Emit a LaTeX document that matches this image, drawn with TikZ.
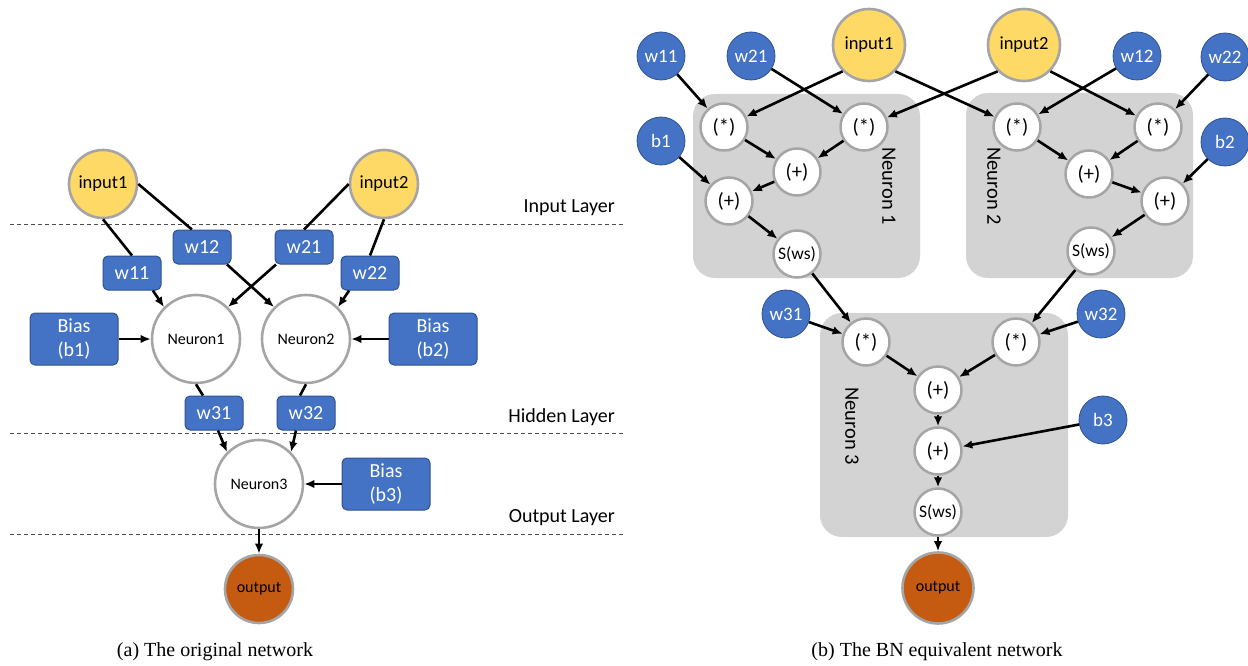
\documentclass[tikz,border=0pt]{standalone}
\usepackage{fontspec}
\setmainfont{Carlito}
\newfontfamily\captionfont{Liberation Serif}
\usetikzlibrary{arrows.meta}
\definecolor{inputyellow}{RGB}{255,217,102}
\definecolor{paramblue}{RGB}{68,114,196}
\definecolor{paramedge}{RGB}{47,82,143}
\definecolor{outputorange}{RGB}{197,90,17}
\definecolor{ringgray}{RGB}{165,165,165}
\definecolor{neurongray}{RGB}{211,211,211}

\begin{document}
\begin{tikzpicture}[x=1pt, y=-1pt, >={Latex[length=10pt,width=8.5pt]}]
    \tikzstyle{inputnode} = [circle, draw=ringgray, line width=2.6pt, fill=inputyellow, minimum size=68pt, inner sep=0pt, font=\fontsize{18.5}{20}\selectfont]
    \tikzstyle{outputnode} = [circle, draw=ringgray, line width=2.6pt, fill=outputorange, minimum size=68pt, inner sep=0pt, font=\fontsize{16}{18}\selectfont]
    \tikzstyle{neuron} = [circle, draw=ringgray, line width=2.6pt, fill=white, minimum size=88pt, inner sep=0pt, font=\fontsize{16}{18}\selectfont]
    \tikzstyle{weightbox} = [rectangle, rounded corners=5pt, draw=paramedge, line width=1pt, fill=paramblue, text=white, minimum width=58pt, minimum height=34pt, font=\fontsize{20}{22}\selectfont]
    \tikzstyle{biasbox} = [weightbox, minimum width=88pt, minimum height=52pt, align=center, font=\fontsize{20}{24}\selectfont]
    \tikzstyle{param} = [circle, draw=paramedge, line width=0.8pt, fill=paramblue, text=white, minimum size=48pt, inner sep=0pt, font=\fontsize{19}{20}\selectfont]
    \tikzstyle{op} = [circle, draw=ringgray, line width=2.5pt, fill=white, minimum size=47pt, inner sep=0pt, font=\fontsize{20.5}{22}\selectfont]
    \tikzstyle{sigop} = [op, font=\fontsize{17.5}{18}\selectfont]
    \tikzstyle{neuronbox} = [rectangle, rounded corners=22pt, fill=neurongray, inner sep=0pt]
    \tikzstyle{layerlabel} = [anchor=east, inner sep=0pt, font=\fontsize{20}{22}\selectfont]
    \tikzstyle{boxlabel} = [rotate=-90, inner sep=0pt, font=\fontsize{20.5}{22}\selectfont]
    \tikzstyle{caption} = [inner sep=0pt, font=\captionfont\fontsize{20}{22}\selectfont]
    \tikzstyle{link} = [line width=2.6pt]
    \tikzstyle{feed} = [->, line width=2.6pt]
    \tikzstyle{layerline} = [line width=1pt, black!70, dash pattern=on 4pt off 3pt]

    \useasboundingbox (0,0) rectangle (1248,666);

    % (a) layers
    \draw [layerline] (10,224) -- (625,224);
    \draw [layerline] (10,433) -- (625,433);
    \draw [layerline] (10,534) -- (625,534);
    \node [layerlabel] (inlayer) at (615,208) {Input Layer};
    \node [layerlabel] (hidlayer) at (615,417) {Hidden Layer};
    \node [layerlabel] (outlayer) at (615,518) {Output Layer};

    % (a) nodes
    \node [inputnode] (input1) at (103,184) {input1};
    \node [inputnode] (input2) at (384,184) {input2};
    \node [weightbox] (w11) at (132,273) {w11};
    \node [weightbox] (w12) at (202,247) {w12};
    \node [weightbox] (w21) at (304,247) {w21};
    \node [weightbox] (w22) at (370,273) {w22};
    \node [neuron] (neuron1) at (196,339) {Neuron1};
    \node [neuron] (neuron2) at (306,339) {Neuron2};
    \node [biasbox] (bias1) at (74,339) {Bias\\(b1)};
    \node [biasbox] (bias2) at (433,339) {Bias\\(b2)};
    \node [weightbox] (w31) at (214,413) {w31};
    \node [weightbox] (w32) at (306,413) {w32};
    \node [neuron] (neuron3) at (259,484) {Neuron3};
    \node [biasbox] (bias3) at (386,484) {Bias\\(b3)};
    \node [outputnode] (output) at (259,589) {output};

    % (a) connections
    \draw [link] (input1.south) -- (w11.north);
    \draw [feed] (w11.-40) -- (neuron1.135);
    \draw [link] (input1.east) -- (w12.120);
    \draw [feed] (w12.-35) -- (neuron2.135);
    \draw [link] (input2.west) -- (w21.north);
    \draw [feed] (w21.-148) -- (neuron1.45);
    \draw [link] (input2.south) -- (w22.north);
    \draw [feed] (w22.-140) -- (neuron2.45);
    \draw [feed] (bias1) -- (neuron1);
    \draw [feed] (bias2) -- (neuron2);
    \draw [link] (neuron1.south) -- ([xshift=-11pt]w31.north);
    \draw [link] (neuron2.south) -- ([xshift=-6pt]w32.north);
    \draw [feed] ([xshift=4pt]w31.south) -- (neuron3.135);
    \draw [feed] ([xshift=-10pt]w32.south) -- (neuron3.45);
    \draw [feed] (bias3) -- (neuron3);
    \draw [feed] (neuron3) -- (output);

    % (b) neuron groups
    \node [neuronbox, minimum width=227pt, minimum height=184pt] (group1) at (806.5,186) {};
    \node [neuronbox, minimum width=227pt, minimum height=185pt] (group2) at (1079.5,185.5) {};
    \node [neuronbox, minimum width=248pt, minimum height=224pt] (group3) at (944,425) {};
    \node [boxlabel] (label1) at (889,186) {Neuron 1};
    \node [boxlabel] (label2) at (994,186) {Neuron 2};
    \node [boxlabel] (label3) at (852,426) {Neuron 3};

    % (b) inputs and parameters
    \node [inputnode, minimum size=72pt] (bninput1) at (869,45) {input1};
    \node [inputnode, minimum size=72pt] (bninput2) at (1024,45) {input2};
    \node [param] (bnw11) at (661,56) {w11};
    \node [param] (bnw21) at (751,56) {w21};
    \node [param] (bnw12) at (1137,56) {w12};
    \node [param] (bnw22) at (1225,57) {w22};
    \node [param] (bnb1) at (661,141) {b1};
    \node [param] (bnb2) at (1225,142) {b2};
    \node [param] (bnw31) at (786,314) {w31};
    \node [param] (bnw32) at (1101,314) {w32};
    \node [param] (bnb3) at (1103,420) {b3};

    % (b) operations
    \node [op] (mul1a) at (724,127) {(*)};
    \node [op] (mul1b) at (864,127) {(*)};
    \node [op] (add1a) at (797,172) {(+)};
    \node [op] (add1b) at (729,201) {(+)};
    \node [sigop] (sig1) at (797,254) {S(ws)};
    \node [op] (mul2a) at (1017,127) {(*)};
    \node [op] (mul2b) at (1158,127) {(*)};
    \node [op] (add2a) at (1089,174) {(+)};
    \node [op] (add2b) at (1165,201) {(+)};
    \node [sigop] (sig2) at (1091,251) {S(ws)};
    \node [op] (mul3a) at (866,342) {(*)};
    \node [op] (mul3b) at (1016,342) {(*)};
    \node [op] (add3a) at (938,390) {(+)};
    \node [op] (add3b) at (938,451) {(+)};
    \node [sigop] (sig3) at (938,512) {S(ws)};
    \node [outputnode, minimum size=71pt] (bnoutput) at (938,588) {output};

    % (b) connections
    \draw [feed] (bnw11) -- (mul1a);
    \draw [feed] (bninput1.south west) -- (mul1a);
    \draw [feed] (bnw21) -- (mul1b);
    \draw [feed] (bninput2.south west) -- (mul1b);
    \draw [feed] (bninput1.south east) -- (mul2a);
    \draw [feed] (bnw12) -- (mul2a);
    \draw [feed] (bninput2.south east) -- (mul2b);
    \draw [feed] (bnw22) -- (mul2b);
    \draw [feed] (mul1a) -- (add1a);
    \draw [feed] (mul1b) -- (add1a);
    \draw [feed] (add1a) -- (add1b);
    \draw [feed] (bnb1) -- (add1b);
    \draw [feed] (add1b) -- (sig1);
    \draw [feed] (mul2a) -- (add2a);
    \draw [feed] (mul2b) -- (add2a);
    \draw [feed] (add2a) -- (add2b);
    \draw [feed] (bnb2) -- (add2b);
    \draw [feed] (add2b) -- (sig2);
    \draw [feed] (sig1) -- (mul3a);
    \draw [feed] (bnw31) -- (mul3a);
    \draw [feed] (sig2) -- (mul3b);
    \draw [feed] (bnw32) -- (mul3b);
    \draw [feed] (mul3a) -- (add3a);
    \draw [feed] (mul3b) -- (add3a);
    \draw [feed] (add3a) -- (add3b);
    \draw [feed] (bnb3) -- (add3b);
    \draw [feed] (add3b) -- (sig3);
    \draw [feed] (sig3) -- (bnoutput);

    % captions
    \node [caption] (capa) at (215,652) {(a) The original network};
    \node [caption] (capb) at (937,652) {(b) The BN equivalent network};
\end{tikzpicture}
\end{document}
